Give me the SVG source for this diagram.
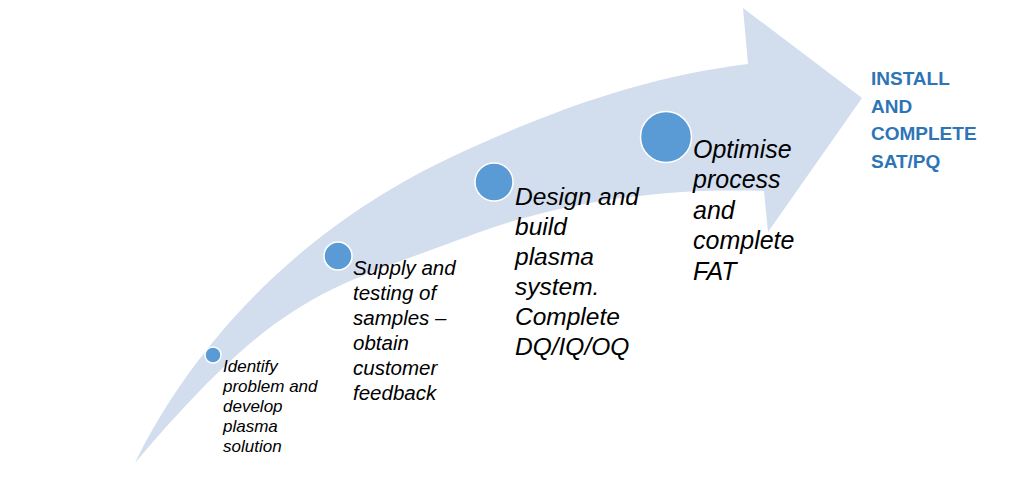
<svg xmlns="http://www.w3.org/2000/svg" width="1024" height="504" viewBox="0 0 1024 504">
<style>
.step{font-family:"Liberation Sans",Arial,sans-serif;font-style:italic;fill:#000}
.dot{fill:#5B9BD5;stroke:#fff;stroke-width:1.5}
.goal{font-family:"Liberation Sans",Arial,sans-serif;font-weight:bold;fill:#2E75B6;font-size:19px}
</style>
<rect width="1024" height="504" fill="#fff"/>
<g id="arrow">
<path d="M135,463 C175,380 270,240 460,153 C560,107 650,76 748,64 L743,8 L862,98 L768,232 L764,191 C690,188 580,195 477,233 C326,290 283,289 135,463 Z" fill="#D2DDEE"/>
</g>
<g id="step1">
<circle class="dot" cx="213" cy="355" r="8"/>
<text class="step" font-size="17" x="223">
<tspan x="223" y="372">Identify</tspan>
<tspan x="223" y="392">problem and</tspan>
<tspan x="223" y="412">develop</tspan>
<tspan x="223" y="432">plasma</tspan>
<tspan x="223" y="452">solution</tspan>
</text>
</g>
<g id="step2">
<circle class="dot" cx="338" cy="256" r="14"/>
<text class="step" font-size="20.5">
<tspan x="353" y="275">Supply and</tspan>
<tspan x="353" y="300">testing of</tspan>
<tspan x="353" y="325">samples –</tspan>
<tspan x="353" y="350">obtain</tspan>
<tspan x="353" y="375">customer</tspan>
<tspan x="353" y="400">feedback</tspan>
</text>
</g>
<g id="step3">
<circle class="dot" cx="494" cy="182" r="19"/>
<text class="step" font-size="24.5">
<tspan x="515" y="205">Design and</tspan>
<tspan x="515" y="235">build</tspan>
<tspan x="515" y="265">plasma</tspan>
<tspan x="515" y="295">system.</tspan>
<tspan x="515" y="325">Complete</tspan>
<tspan x="515" y="355">DQ/IQ/OQ</tspan>
</text>
</g>
<g id="step4">
<circle class="dot" cx="666" cy="137" r="25.5"/>
<text class="step" font-size="25">
<tspan x="693" y="158">Optimise</tspan>
<tspan x="693" y="188">process</tspan>
<tspan x="693" y="219">and</tspan>
<tspan x="693" y="249">complete</tspan>
<tspan x="693" y="280">FAT</tspan>
</text>
</g>
<g id="goal">
<text class="goal">
<tspan x="871" y="85">INSTALL</tspan>
<tspan x="871" y="113">AND</tspan>
<tspan x="871" y="140">COMPLETE</tspan>
<tspan x="871" y="168">SAT/PQ</tspan>
</text>
</g>
<g id="connectors"></g>
</svg>
